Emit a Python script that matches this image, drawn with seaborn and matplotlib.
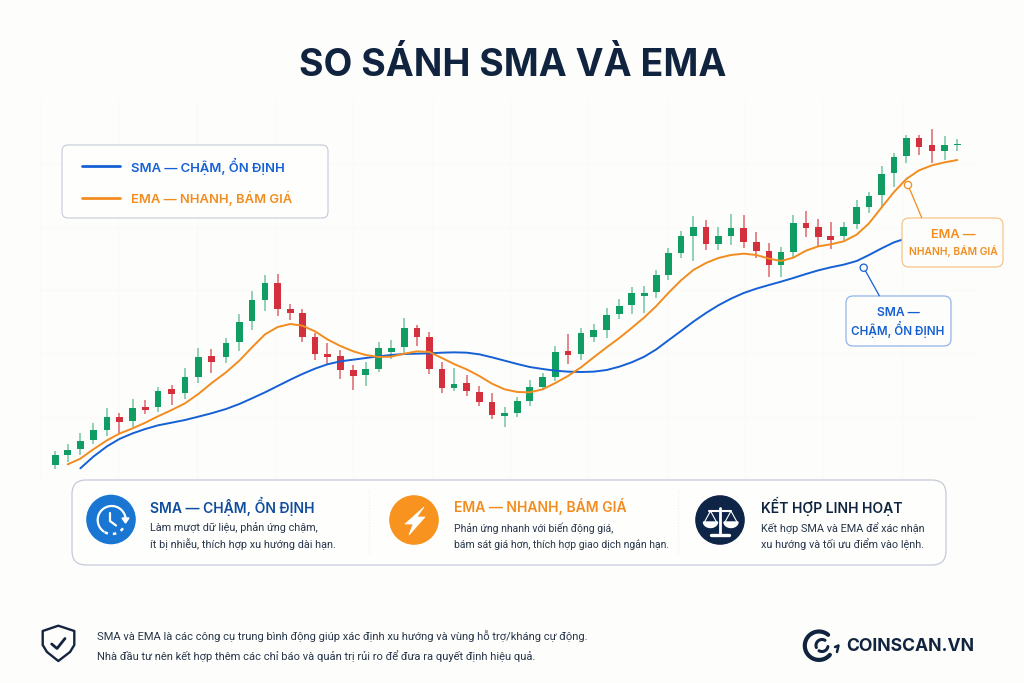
import numpy as np
import pandas as pd
import seaborn as sns
import matplotlib
matplotlib.use("Agg")
import matplotlib.pyplot as plt
from matplotlib.patches import FancyBboxPatch, Circle, Polygon

# Candle data, one entry per session (price scale is arbitrary index points)
sessions = [46, 83, 121, 160, 201, 238, 278, 316, 354, 395, 435, 475, 514, 558, 598, 636, 675, 713,
            751, 787, 825, 862, 901, 940, 977, 1016, 1054, 1093, 1131, 1168, 1206, 1242, 1280, 1318,
            1356, 1394, 1432, 1469, 1508, 1546, 1584, 1623, 1661, 1700, 1738, 1775, 1813, 1849, 1885,
            1923, 1960, 1998, 2035, 2073, 2111, 2149, 2187, 2223, 2260, 2298, 2335, 2372, 2411, 2450,
            2487, 2525, 2562, 2599, 2637, 2676, 2714, 2752]
highs = [88, 109, 141, 172, 216, 200, 243, 240, 279, 285, 336, 397, 392, 425, 497, 566, 615, 617,
         527, 512, 442, 411, 390, 344, 354, 414, 420, 485, 465, 443, 354, 335, 315, 282,
         260, 220, 248, 299, 322, 403, 438, 456, 467, 515, 543, 578, 582, 631, 697,
         748, 792, 780, 759, 799, 796, 744, 712, 700, 795, 806, 784, 773, 773, 839,
         865, 943, 982, 1036, 1036, 1053, 1032, 1023]
lows = [33, 53, 75, 108, 133, 141, 160, 197, 204, 226, 244, 292, 320, 351, 388, 449, 507, 493,
        480, 415, 359, 348, 304, 270, 283, 324, 362, 382, 403, 317, 262, 266, 252, 223,
        184, 158, 190, 223, 270, 296, 349, 360, 415, 426, 483, 497, 500, 547, 601,
        667, 658, 690, 690, 706, 697, 667, 610, 610, 665, 730, 702, 694, 719, 752,
        801, 817, 880, 952, 975, 952, 959, 987]
opens = [45, 76, 92, 121, 151, 189, 176, 220, 219, 272, 261, 308, 373, 369, 414, 477, 540, 590,
         513, 502, 428, 379, 371, 329, 314, 333, 383, 398, 456, 429, 333, 275, 290, 265,
         233, 192, 200, 238, 278, 309, 388, 377, 430, 451, 497, 524, 552, 563, 616,
         681, 732, 758, 708, 732, 755, 714, 687, 645, 684, 772, 758, 731, 732, 767,
         820, 855, 920, 972, 1026, 1006, 988, 1005]
closes = [75, 90, 118, 150, 189, 174, 217, 210, 266, 258, 308, 370, 355, 410, 475, 540, 590, 512,
          501, 429, 378, 369, 329, 313, 333, 395, 397, 456, 430, 333, 275, 289, 266, 235,
          196, 202, 237, 279, 309, 385, 375, 442, 450, 495, 521, 560, 560, 614, 680,
          732, 758, 709, 731, 755, 714, 686, 645, 683, 770, 756, 730, 720, 758, 818,
          852, 919, 970, 1027, 998, 987, 1006, 1007]

# Moving averages; None where the window has not filled yet
sma = [None, None, 35, 70, 101, 123, 140, 153, 164, 172, 180, 190, 200, 213, 228, 245, 263, 282,
       301, 318, 334, 347, 356, 361, 366, 371, 375, 378, 379, 380, 382, 383, 382, 377,
       368, 358, 348, 339, 333, 328, 325, 324, 325, 330, 340, 353, 370, 392, 419,
       447, 475, 501, 524, 544, 561, 574, 585, 595, 606, 618, 629, 638, 646, 657,
       675, 695, 713, 725, None, None, None, None]
ema = [None, 47, 64, 92, 119, 139, 155, 172, 191, 210, 230, 258, 290, 323, 358, 398, 437, 459,
       468, 463, 446, 422, 402, 386, 375, 369, 370, 379, 386, 384, 366, 348, 332, 312,
       289, 272, 264, 263, 272, 291, 312, 338, 368, 398, 426, 456, 488, 522, 561,
       599, 630, 651, 666, 675, 679, 675, 664, 657, 667, 688, 701, 707, 716, 736,
       770, 818, 864, 903, 929, 944, 953, 960]

title = "SO SÁNH SMA VÀ EMA"
sma_label = "SMA — CHẬM, ỔN ĐỊNH"
ema_label = "EMA — NHANH, BÁM GIÁ"
card_titles = [sma_label, ema_label, "KẾT HỢP LINH HOẠT"]
card_lines = [["Làm mượt dữ liệu, phản ứng chậm,", "ít bị nhiễu, thích hợp xu hướng dài hạn."],
              ["Phản ứng nhanh với biến động giá,", "bám sát giá hơn, thích hợp giao dịch ngắn hạn."],
              ["Kết hợp SMA và EMA để xác nhận", "xu hướng và tối ưu điểm vào lệnh."]]
footer_lines = ["SMA và EMA là các công cụ trung bình động giúp xác định xu hướng và vùng hỗ trợ/kháng cự động.",
                "Nhà đầu tư nên kết hợp thêm các chỉ báo và quản trị rủi ro để đưa ra quyết định hiệu quả."]
brand = "COINSCAN.VN"

BG = "#fdfdfb"
GREEN = "#0f9d63"
RED = "#d32f3c"
BLUE = "#1560d4"
ORANGE = "#f28c1e"
NAVY = "#10233f"
BODY = "#27364a"
EDGE = "#c5cad8"

sns.set_theme(style="white")
plt.rcParams["font.family"] = ["Inter", "Noto Sans", "DejaVu Sans"]

fig = plt.figure(figsize=(10.24, 6.83), dpi=100, facecolor=BG)

# Price panel
ax = fig.add_axes([40 / 1024, (683 - 480) / 683, 940 / 1024, 380 / 683], facecolor=BG)
ax.set_xlim(0, 2820)
ax.set_ylim(0, 1140)
ax.set_xticks(np.arange(0, 2820, 235))
ax.set_yticks(np.arange(0, 1140, 190))
ax.tick_params(length=0, labelbottom=False, labelleft=False)
ax.grid(True, color="#fafaf7", lw=0.8)
ax.set_axisbelow(True)
sns.despine(ax=ax, left=True, bottom=True)

x = np.array(sessions, float)
o, h, l, c = map(lambda v: np.array(v, float), (opens, highs, lows, closes))
up = c >= o
colors = np.where(up, GREEN, RED)
ax.vlines(x[up], l[up], h[up], color=GREEN, lw=1.15, alpha=0.55, zorder=2)
ax.vlines(x[~up], l[~up], h[~up], color=RED, lw=1.15, alpha=0.7, zorder=2)
ax.bar(x, np.abs(c - o), bottom=np.minimum(o, c), width=20, color=colors, lw=0, zorder=3)

prices = pd.DataFrame({"session": x, "SMA": pd.to_numeric(pd.Series(sma)), "EMA": pd.to_numeric(pd.Series(ema))})
line_style = dict(lw=1.4, zorder=4, legend=False, solid_capstyle="round", solid_joinstyle="round")
sns.lineplot(data=prices, x="session", y="SMA", color=BLUE, ax=ax, **line_style)
sns.lineplot(data=prices, x="session", y="EMA", color=ORANGE, ax=ax, **line_style)
ax.set_xlabel("")
ax.set_ylabel("")

# Page layer measured in figure pixels, used for titles, cards and icons
page = fig.add_axes([0, 0, 1, 1], facecolor="none")
page.set_xlim(0, 1024)
page.set_ylim(683, 0)
page.axis("off")


def box(x0, y0, x1, y1, radius, edge, lw=1.0, face="white"):
    page.add_patch(FancyBboxPatch((x0 + radius, y0 + radius), x1 - x0 - 2 * radius, y1 - y0 - 2 * radius,
                                  boxstyle=f"round,pad={radius},rounding_size={radius}",
                                  fc=face, ec=edge, lw=lw, zorder=2))


def label(px, py, s, size, color, weight="normal", ha="left", family=None):
    page.text(px, py, s, fontsize=size, color=color, fontweight=weight, ha=ha, va="center", zorder=5,
              family=family)


def arc(cx, cy, r, a0, a1, color, lw, **kw):
    t = np.radians(np.linspace(a0, a1, 60))
    page.plot(cx + r * np.cos(t), cy - r * np.sin(t), color=color, lw=lw, zorder=6, **kw)


label(513, 66, title, 27, NAVY, "bold", "center")

# Legend
box(62, 145, 328, 218, 6, EDGE, 0.8, "#fefefd")
page.plot([82, 120], [166, 166], color=BLUE, lw=2.0, solid_capstyle="round", zorder=4)
page.plot([82, 120], [198, 198], color=ORANGE, lw=2.0, solid_capstyle="round", zorder=4)
label(131, 166.5, sma_label, 9.4, BLUE, "semibold")
label(131, 198.5, ema_label, 9.35, ORANGE, "semibold")

# Callouts
page.plot([908, 921.7], [185, 217.7], color=ORANGE, lw=0.9, zorder=3)
page.add_patch(Circle((908, 185), 3.6, fc=BG, ec=ORANGE, lw=0.9, zorder=4))
box(902, 218, 1003, 267, 7, "#f5c489", 0.9, BG)
label(953, 235, "EMA —", 9.2, ORANGE, "semibold", "center")
label(953, 251, "NHANH, BÁM GIÁ", 7.4, ORANGE, "semibold", "center")

page.plot([863.7, 879.3], [267.7, 295.7], color=BLUE, lw=0.9, zorder=3)
page.add_patch(Circle((863.7, 267.7), 3.6, fc=BG, ec=BLUE, lw=0.9, zorder=4))
box(846, 296, 951, 346, 7, "#93b4ea", 0.9, BG)
label(898, 313, "SMA —", 8.7, BLUE, "semibold", "center")
label(898, 329.5, "CHẬM, ỔN ĐỊNH", 8.4, BLUE, "semibold", "center")

# Feature cards
box(72, 480, 946, 565, 14, EDGE, 0.9, "#fefefd")
for px in (369, 678):
    page.plot([px, px], [490, 555], color="#eeeff2", lw=0.8, ls=":", zorder=3)
for px, s, color in zip((150, 454, 761), card_titles, ("#0f4c9c", ORANGE, NAVY)):
    label(px, 506.5, s, 10.05, color, "semibold")
for px, lines, size in zip((150, 454, 761), card_lines, (7.8, 7.5, 7.8)):
    label(px, 528, lines[0], size, BODY, family="Roboto")
    label(px, 544, lines[1], size, BODY, family="Roboto")

# Clock icon
page.add_patch(Circle((111, 519.5), 25.5, fc="#1976d2", zorder=4))
arc(111.7, 520, 14, -8, 235, "white", 1.6)
arc(111.7, 520, 14, 240, 340, "white", 1.8, ls=(0, (1.4, 2.0)))
page.plot([110, 110, 116], [513, 521, 525.5], color="white", lw=1.6, zorder=6)
page.add_patch(Polygon([[122, 518], [129, 518], [125.5, 523]], fc="white", zorder=6))

# Lightning bolt icon
page.add_patch(Circle((414, 520), 25.5, fc="#f7931e", zorder=4))
page.add_patch(Polygon([[424, 507], [405, 524], [413, 524], [409, 535], [425, 517], [417, 517]],
                       fc="white", ec="white", lw=0.5, joinstyle="round", zorder=6))

# Balance icon
page.add_patch(Circle((720, 520), 25.5, fc="#0f2547", zorder=4))
page.plot([720, 720], [508, 533], color="white", lw=2, zorder=6)
page.plot([711, 729], [534.5, 534.5], color="white", lw=2.4, zorder=6)
page.plot([709, 731], [511, 511], color="white", lw=1.5, zorder=6)
for cx in (710.5, 731):
    page.plot([cx - 6, cx, cx + 6], [522, 511, 522], color="white", lw=0.8, zorder=6)
    t = np.linspace(0, np.pi, 30)
    page.add_patch(Polygon(np.c_[cx + 7 * np.cos(t), 522 + 5.5 * np.sin(t)], fc="white", zorder=6))

# Shield icon and footnote
page.add_patch(Polygon([[58.3, 625.7], [74.3, 631], [74.3, 645], [70, 652], [58.3, 661], [47, 652], [42.7, 645], [42.7, 631]],
                       fc="none", ec="#14243f", lw=1.7, joinstyle="round", zorder=6))
page.plot([51.7, 57, 65], [644, 648.5, 638.5], color="#14243f", lw=2, solid_capstyle="round", zorder=6)
label(97, 636.5, footer_lines[0], 8.0, BODY, family="Roboto")
label(97, 656.5, footer_lines[1], 8.0, BODY, family="Roboto")

# Brand mark
arc(819, 645.7, 14.2, 50, 320, NAVY, 3.0)
arc(822, 645.5, 6.0, 60, 200, NAVY, 2.2)
arc(822, 645.5, 6.0, 240, 350, NAVY, 2.2)
page.plot([835, 838.5, 837], [647, 645.5, 652], color=NAVY, lw=1.8, zorder=6)
label(846, 646.5, brand, 12.7, NAVY, "bold")

fig.savefig("out.png", dpi=100, facecolor=BG)
